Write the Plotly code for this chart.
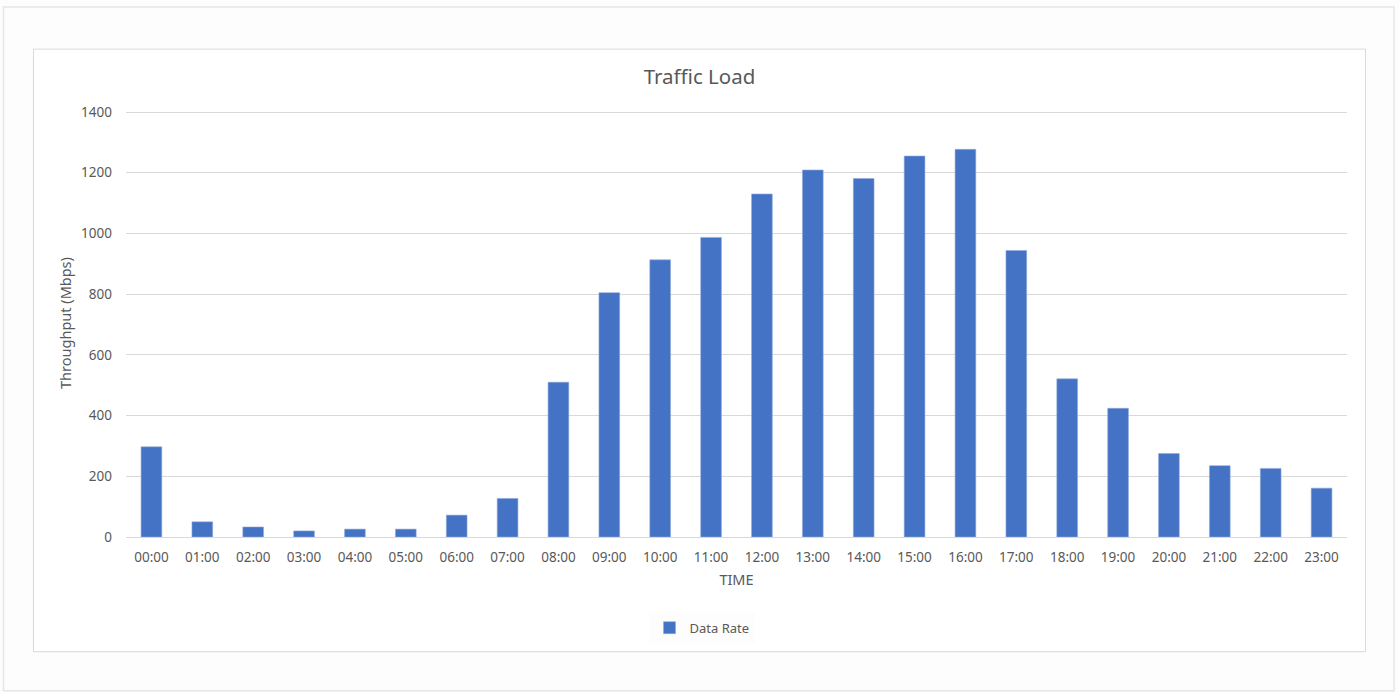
import plotly.graph_objects as go

hours = [f"{h:02d}:00" for h in range(24)]
data_rate = [297, 50, 33, 20, 26, 26, 72, 127, 510, 805, 913, 987,
             1130, 1209, 1181, 1255, 1277, 944, 521, 424, 275, 235, 226, 161]
y_ticks = [0, 200, 400, 600, 800, 1000, 1200, 1400]
y_top = 1410

W, H = 1399, 692
B = 537.3
unit = 424.9 / 1400
L, R, T = 126, 1347, B - unit * y_top
pw, ph = R - L, B - T

def px(x):
    return (x - L) / pw

def py(y):
    return (B - y) / ph

FONT = "Noto Sans"
GRAY = "#595959"

fig = go.Figure()
fig.add_trace(go.Bar(
    x=hours, y=data_rate, name="Data Rate",
    marker=dict(color="#4472C4", line=dict(color="#8faadc", width=0.6)),
))

fig.update_layout(
    width=W, height=H,
    margin=dict(l=L, r=W - R, t=T, b=H - B, pad=0),
    paper_bgcolor="#fdfdfd", plot_bgcolor="white",
    font=dict(family=FONT, color=GRAY, size=13),
    title=dict(text="Traffic Load", x=0.5, xref="container", xanchor="center",
               y=1 - 77 / H, yref="container", yanchor="middle",
               font=dict(size=20.5, color=GRAY, family=FONT)),
    bargap=0.593,
    showlegend=True,
    legend=dict(orientation="h", x=px(702), xanchor="center", y=py(628),
                yanchor="middle", font=dict(size=13, color=GRAY),
                itemwidth=30),
    xaxis=dict(showgrid=False, showline=False, ticks="", zeroline=False,
               ticklabelstandoff=10,
               tickfont=dict(size=13.5, color=GRAY),
               title=dict(text="TIME", font=dict(size=14.5, color=GRAY), standoff=10)),
    yaxis=dict(range=[0, y_top], tickvals=y_ticks, showgrid=True,
               gridcolor="#d9d9d9", gridwidth=1, zeroline=True,
               zerolinecolor="#d9d9d9", zerolinewidth=1, showline=False,
               ticks="", ticklabelstandoff=13, tickfont=dict(size=13.5, color=GRAY),
               title=dict(text="Throughput (Mbps)", font=dict(size=14.5, color=GRAY),
                          standoff=6)),
    shapes=[
        dict(type="rect", xref="paper", yref="paper", layer="below",
             x0=px(3.5), x1=px(1394), y0=py(691), y1=py(7.5),
             line=dict(color="#e6e6e6", width=1.5), fillcolor="#fdfdfd"),
        dict(type="rect", xref="paper", yref="paper", layer="below",
             x0=px(33.5), x1=px(1365.5), y0=py(652), y1=py(49.5),
             line=dict(color="#d9d9d9", width=1), fillcolor="white"),
    ],
)

fig.write_html("out.html")
